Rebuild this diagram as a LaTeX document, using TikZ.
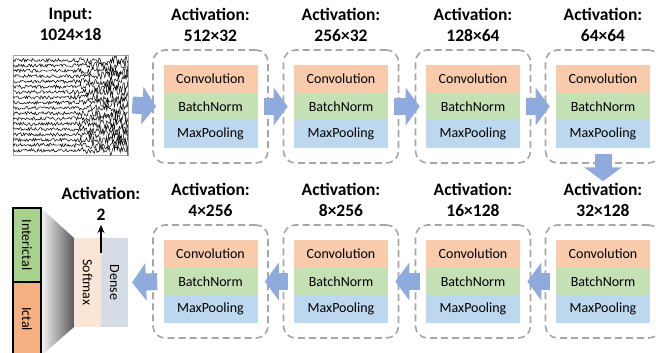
\documentclass[tikz,border=0pt]{standalone}
\usepackage{fontspec}
\setmainfont{Carlito}
\usetikzlibrary{positioning,arrows.meta,backgrounds}

\definecolor{convColor}{HTML}{F8CBAD}
\definecolor{bnColor}{HTML}{C5E0B4}
\definecolor{mpColor}{HTML}{BDD7EE}
\definecolor{arrowBlue}{HTML}{8FAADC}
\definecolor{dashGray}{HTML}{A6A6A6}
\definecolor{smaxColor}{HTML}{FBE5D6}
\definecolor{denseColor}{HTML}{D6DCE5}
\definecolor{interColor}{HTML}{A9D18E}
\definecolor{ictalColor}{HTML}{F4B183}

\tikzset{
    layer/.style={minimum width=94pt, minimum height=27.5pt, inner sep=0pt, outer sep=0pt,
        font=\fontsize{14}{16}\selectfont},
    block/.style={draw=dashGray, line width=1.6pt, dash pattern=on 7pt off 4pt,
        rounded corners=12pt, minimum width=115pt, minimum height=113pt},
    actlabel/.style={align=center, inner sep=0pt, font=\bfseries\fontsize{17.5}{21}\selectfont},
    fatarrow/.style={draw=arrowBlue, line width=17pt, -{Triangle[length=14pt,width=37pt]}},
    side/.style={inner sep=0pt, outer sep=0pt, font=\fontsize{14}{15}\selectfont},
}

\begin{document}
\begin{tikzpicture}[x=1pt,y=1pt]
    \useasboundingbox (0,0) rectangle (656,353);

    % --- Definitions for the two rows ---
    \def\topY{246.5}   % centre of the upper row
    \def\botY{71.5}    % centre of the lower row

    % --- Input EEG ---
    \node[draw=gray!70, line width=0.6pt, minimum width=115pt, minimum height=100pt,
          inner sep=0pt] (inImg) at (70.5,248) {};
    \begin{scope}
        \clip (inImg.south west) rectangle (inImg.north east);
        \pgfmathsetseed{42}
        \foreach \k in {1,...,18}{
            \draw[line width=0.5pt] plot[domain=13:128, samples=120]
                (\x, {298 - \k*5.3 + (1.7 + 5*max(0,\x-68)/60)*rand});
        }
    \end{scope}
    \node[actlabel] (inLabel) at ([yshift=30pt]inImg.north) {Input:\\1024×18};

    % --- Conv blocks (1-4 upper row, 5-8 lower row, right to left) ---
    \foreach \i/\x/\y/\act in {1/210.5/\topY/512×32, 2/341/\topY/256×32,
                               3/473/\topY/128×64, 4/603/\topY/64×64,
                               5/603/\botY/32×128, 6/473/\botY/16×128,
                               7/341/\botY/8×256, 8/210.5/\botY/4×256}{
        \node[block] (blk\i) at (\x,\y) {};
        \node[layer, fill=bnColor] (bn\i) at (\x,\y) {BatchNorm};
        \node[layer, fill=convColor, above=0pt of bn\i] (conv\i) {Convolution};
        \node[layer, fill=mpColor, below=0pt of bn\i] (mp\i) {MaxPooling};
        \node[actlabel] (act\i) at ([yshift=24pt]blk\i.north) {Activation:\\\act};
    }

    % --- Output head ---
    \node[side, fill=smaxColor, minimum width=27pt, minimum height=89pt] (smax) at (87.5,70.5)
        {\rotatebox{-90}{Softmax}};
    \node[side, fill=denseColor, minimum width=27pt, minimum height=89pt] (dense) at (114.5,70.5)
        {\rotatebox{-90}{Dense}};
    \node[side, draw=black, line width=1.2pt, fill=interColor, minimum width=28pt,
          minimum height=74pt] (inter) at (27,108) {\rotatebox{-90}{Interictal}};
    \node[side, draw=black, line width=1.2pt, fill=ictalColor, minimum width=28pt,
          minimum height=74pt, below=0pt of inter] (ictal) {\rotatebox{-90}{Ictal}};

    \begin{pgfonlayer}{background}
        \shade[left color=gray!8, right color=black!65]
            (inter.north east) -- (smax.north west) -- (smax.south west) -- (ictal.south east) -- cycle;
    \end{pgfonlayer}

    \coordinate (outTip) at ([yshift=13pt]smax.north east);
    \draw[-{Stealth[length=8pt,width=7pt]}, line width=1.6pt]
        ([yshift=-15pt]smax.north east) -- (outTip);
    \node[actlabel] (outLabel) at ([yshift=21.5pt]outTip) {Activation:\\2};

    % --- Arrows ---
    \draw[fatarrow] ([xshift=4pt]inImg.east) -- ([xshift=4pt]blk1.west);
    \foreach \a/\b in {1/2, 2/3, 3/4}
        \draw[fatarrow] ([xshift=-5pt]blk\a.east) -- ([xshift=5pt]blk\b.west);
    \draw[fatarrow] ([yshift=10pt]blk4.south) -- ([yshift=2pt]act5.north);
    \foreach \a/\b in {5/6, 6/7, 7/8}
        \draw[fatarrow] ([xshift=5pt]blk\a.west) -- ([xshift=-4pt]blk\b.east);
    \draw[fatarrow] ([xshift=5pt]blk8.west) -- ([xshift=4pt]dense.east);

\end{tikzpicture}
\end{document}
